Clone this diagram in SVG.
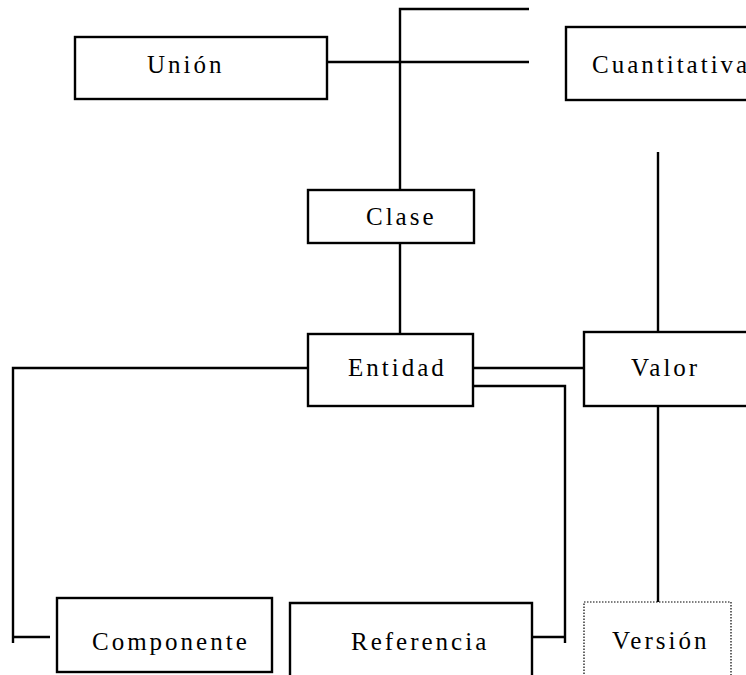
<svg xmlns="http://www.w3.org/2000/svg" width="746" height="675" viewBox="0 0 746 675">
<style>
.box{fill:#fff;stroke:#000;stroke-width:2.4}
.dot{fill:#fff;stroke:#000;stroke-width:1.2;stroke-dasharray:1.5 1.5}
.ln{fill:none;stroke:#000;stroke-width:2.4}
.t{font-family:"Liberation Serif","Times New Roman",serif;font-size:25px;letter-spacing:3px;fill:#000}
</style>
<rect width="746" height="675" fill="#fff"/>
<g id="connectors">
<polyline class="ln" points="529,9 400,9 400,194"/>
<line class="ln" x1="327" y1="62" x2="529" y2="62"/>
<line class="ln" x1="400" y1="243" x2="400" y2="334"/>
<line class="ln" x1="658" y1="152" x2="658" y2="336"/>
<line class="ln" x1="473" y1="368" x2="584" y2="368"/>
<polyline class="ln" points="308,368 13,368 13,643"/>
<line class="ln" x1="13" y1="637" x2="50" y2="637"/>
<polyline class="ln" points="473,386 565,386 565,643"/>
<line class="ln" x1="531" y1="637" x2="565" y2="637"/>
<line class="ln" x1="658" y1="406" x2="658" y2="607"/>
</g>
<g id="union"><rect class="box" x="75" y="37" width="252" height="62"/><text class="t" x="147" y="73">Unión</text></g>
<g id="cuantitativa"><rect class="box" x="566" y="27" width="190" height="73"/><text class="t" x="592" y="73">Cuantitativa</text></g>
<g id="clase"><rect class="box" x="308" y="190" width="166" height="53"/><text class="t" x="366" y="225">Clase</text></g>
<g id="entidad"><rect class="box" x="308" y="334" width="165" height="72"/><text class="t" x="348" y="376">Entidad</text></g>
<g id="valor"><rect class="box" x="584" y="332" width="172" height="74"/><text class="t" x="631" y="376">Valor</text></g>
<g id="componente"><rect class="box" x="57" y="598" width="215" height="74"/><text class="t" x="92" y="650">Componente</text></g>
<g id="referencia"><path class="ln" d="M290,680 V603 H532 V680"/><text class="t" x="351" y="650">Referencia</text></g>
<g id="version"><path class="dot" d="M584,680 V602 H731 V680"/><text class="t" x="612" y="649">Versión</text></g>
</svg>
